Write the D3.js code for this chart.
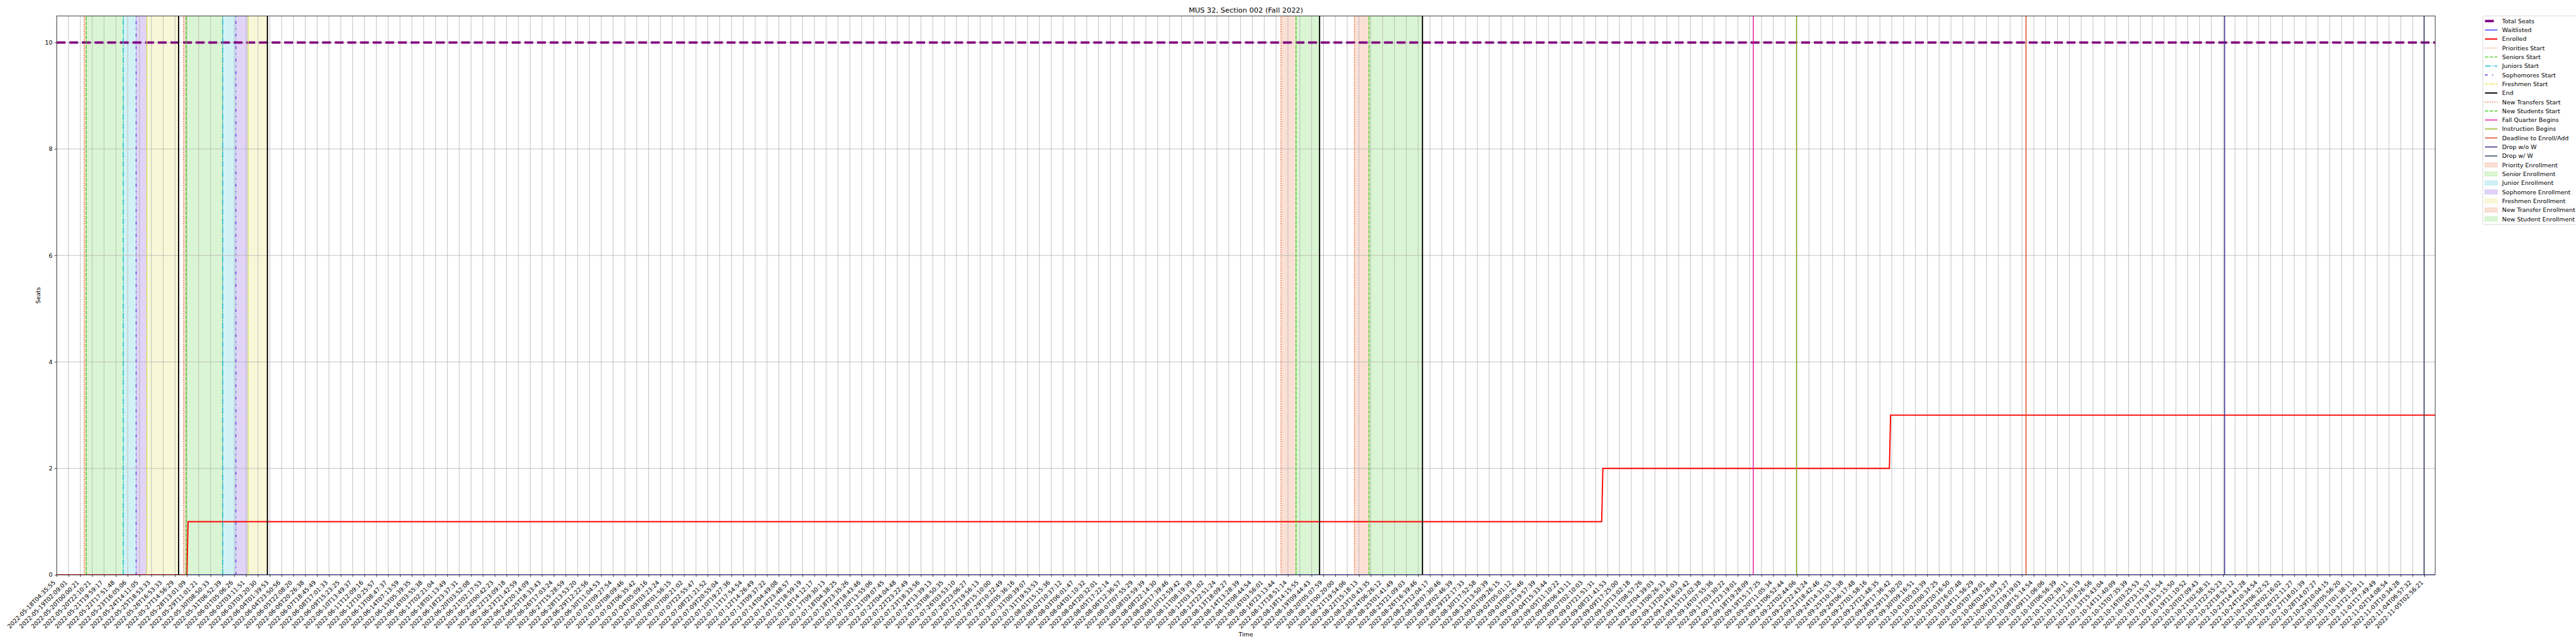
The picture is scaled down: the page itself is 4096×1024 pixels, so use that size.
<!DOCTYPE html>
<html><head><meta charset="utf-8">
<script src="https://cdn.jsdelivr.net/npm/d3@7"></script>
<style>html,body{margin:0;padding:0;background:#fff;overflow:hidden}</style>
</head><body>
<svg id="chart" width="4096" height="1024" viewBox="0 0 6000 1500"></svg>
<script>
// ---------------- DATA ----------------
const tickLabels = [
"2022-05-18T04:35:55","2022-05-19T02:09:01","2022-05-20T00:00:21","2022-05-20T22:10:21","2022-05-21T19:59:17",
"2022-05-22T17:51:48","2022-05-23T16:05:06","2022-05-24T14:11:05","2022-05-25T18:53:33","2022-05-26T16:53:33",
"2022-05-27T14:56:29","2022-05-28T13:01:09","2022-05-29T11:01:21","2022-05-30T08:50:33","2022-05-31T06:52:39",
"2022-06-01T05:06:26","2022-06-02T03:11:51","2022-06-03T03:20:30","2022-06-04T01:39:53","2022-06-04T23:50:56",
"2022-06-05T22:08:20","2022-06-06T20:26:38","2022-06-07T18:45:49","2022-06-08T17:01:33","2022-06-09T15:23:25",
"2022-06-10T13:49:37","2022-06-11T12:09:16","2022-06-12T10:25:57","2022-06-13T08:47:37","2022-06-14T07:13:59",
"2022-06-15T05:39:35","2022-06-16T03:55:38","2022-06-17T02:21:04","2022-06-18T01:13:49","2022-06-18T23:37:31",
"2022-06-20T03:52:08","2022-06-21T02:17:53","2022-06-22T00:42:23","2022-06-22T23:09:18","2022-06-23T21:42:59",
"2022-06-24T20:14:09","2022-06-25T18:33:43","2022-06-26T17:03:24","2022-06-27T15:28:59","2022-06-28T13:53:20",
"2022-06-29T12:22:56","2022-06-30T11:04:53","2022-07-01T09:27:54","2022-07-02T08:09:46","2022-07-03T06:35:42",
"2022-07-04T05:09:16","2022-07-05T03:23:24","2022-07-06T01:56:15","2022-07-07T00:21:02","2022-07-07T22:55:47",
"2022-07-08T21:21:52","2022-07-09T20:55:04","2022-07-10T19:27:36","2022-07-11T17:54:54","2022-07-12T14:26:49",
"2022-07-13T09:37:22","2022-07-14T04:49:08","2022-07-14T23:48:57","2022-07-15T18:59:19","2022-07-16T14:12:17",
"2022-07-17T09:30:13","2022-07-18T04:38:25","2022-07-18T23:35:26","2022-07-19T18:43:46","2022-07-20T13:55:06",
"2022-07-21T09:07:45","2022-07-22T04:04:48","2022-07-22T23:22:49","2022-07-23T18:33:56","2022-07-24T13:39:13",
"2022-07-25T08:50:35","2022-07-26T03:53:10","2022-07-26T23:06:27","2022-07-27T19:56:13","2022-07-28T15:10:00",
"2022-07-29T10:22:49","2022-07-30T05:36:16","2022-07-31T00:39:07","2022-07-31T19:53:53","2022-08-01T15:15:36",
"2022-08-02T10:37:12","2022-08-03T06:01:47","2022-08-04T01:10:32","2022-08-04T20:32:01","2022-08-05T17:22:14",
"2022-08-06T12:36:57","2022-08-07T07:55:29","2022-08-08T02:59:39","2022-08-08T22:14:30","2022-08-09T17:39:46",
"2022-08-10T12:59:42","2022-08-11T08:19:39","2022-08-12T03:31:02","2022-08-12T22:51:24","2022-08-13T18:09:27",
"2022-08-14T13:28:39","2022-08-15T08:44:54","2022-08-16T03:56:01","2022-08-16T23:13:44","2022-08-17T18:51:14",
"2022-08-18T14:15:55","2022-08-19T09:44:43","2022-08-20T05:07:59","2022-08-21T00:20:00","2022-08-21T19:54:06",
"2022-08-22T15:18:13","2022-08-23T10:43:35","2022-08-24T06:26:12","2022-08-25T01:41:49","2022-08-25T21:09:03",
"2022-08-26T16:39:46","2022-08-27T12:04:17","2022-08-28T07:30:46","2022-08-29T02:46:39","2022-08-29T22:17:33",
"2022-08-30T17:52:58","2022-08-31T13:50:39","2022-09-01T09:26:15","2022-09-02T05:01:12","2022-09-03T00:25:46",
"2022-09-03T19:57:39","2022-09-04T15:33:44","2022-09-05T11:10:22","2022-09-06T06:43:11","2022-09-07T02:10:03",
"2022-09-07T21:51:31","2022-09-08T21:41:53","2022-09-09T17:25:00","2022-09-10T13:02:18","2022-09-11T08:57:26",
"2022-09-12T04:39:03","2022-09-13T00:26:33","2022-09-13T20:16:03","2022-09-14T16:03:42","2022-09-15T12:02:38",
"2022-09-16T07:55:36","2022-09-17T03:30:22","2022-09-17T23:19:01","2022-09-18T19:28:09","2022-09-19T15:17:25",
"2022-09-20T11:05:34","2022-09-21T06:52:44","2022-09-22T02:44:06","2022-09-22T22:43:24","2022-09-23T18:42:46",
"2022-09-24T14:31:53","2022-09-25T10:13:38","2022-09-26T06:17:48","2022-09-27T01:58:16","2022-09-27T21:48:35",
"2022-09-28T17:36:42","2022-09-29T13:30:20","2022-09-30T09:16:51","2022-10-01T05:03:39","2022-10-02T00:37:25",
"2022-10-02T20:16:50","2022-10-03T16:07:48","2022-10-04T11:56:29","2022-10-05T07:49:01","2022-10-06T03:28:04",
"2022-10-06T23:23:27","2022-10-07T19:19:03","2022-10-08T15:14:54","2022-10-09T11:06:06","2022-10-10T06:56:39",
"2022-10-11T02:39:11","2022-10-11T22:30:19","2022-10-12T18:26:56","2022-10-13T15:43:04","2022-10-14T11:40:09",
"2022-10-15T07:35:39","2022-10-16T03:25:53","2022-10-16T23:15:57","2022-10-17T19:15:54","2022-10-18T15:15:50",
"2022-10-19T11:10:52","2022-10-20T07:09:43","2022-10-21T02:58:31","2022-10-21T22:55:23","2022-10-22T18:52:12",
"2022-10-23T14:41:28","2022-10-24T10:34:54","2022-10-25T06:32:52","2022-10-26T02:16:02","2022-10-26T22:11:27",
"2022-10-27T18:01:39","2022-10-28T14:07:27","2022-10-29T10:04:15","2022-10-30T05:56:20","2022-10-31T01:38:11",
"2022-10-31T21:29:11","2022-11-01T17:49:49","2022-11-02T14:08:54","2022-11-03T10:34:28","2022-11-04T06:57:32",
"2022-11-05T02:56:21"
];
const lastSample = 2009;          // samples indexed 0..2009, a tick every 10th sample
const tickEvery = 10;
const yTicks = [0, 2, 4, 6, 8, 10];

// series as [sampleIndex, value] change points
const totalSeats = [[0, 10], [2009, 10]];
const waitlisted = [[0, 0], [2009, 0]];
const enrolled   = [[0, 0], [110, 0], [111, 1], [1305, 1], [1306, 2], [1548, 2], [1549, 3], [2009, 3]];

// event markers (sample index)
const eventNames = ["Priorities Start","Seniors Start","Juniors Start","Sophomores Start","Freshmen Start","End",
  "Priorities Start","Seniors Start","Juniors Start","Sophomores Start","Freshmen Start","End",
  "New Transfers Start","New Students Start","End",
  "New Transfers Start","New Students Start","End",
  "Fall Quarter Begins","Instruction Begins","Deadline to Enroll/Add","Drop w/o W","Drop w/ W"];
const eventPos = [23.2, 25.0, 56.2, 67.1, 76.1, 103.0,
  107.2, 109.3, 140.3, 151.3, 161.7, 178.0,
  1034.1, 1046.8, 1066.7,
  1096.1, 1108.5, 1153.6,
  1433.0, 1469.5, 1663.4, 1831.2, 1999.6];

// shaded enrollment periods
const spanNames = ["Priority Enrollment","Senior Enrollment","Junior Enrollment","Sophomore Enrollment","Freshmen Enrollment",
  "Priority Enrollment","Senior Enrollment","Junior Enrollment","Sophomore Enrollment","Freshmen Enrollment",
  "New Transfer Enrollment","New Student Enrollment","New Transfer Enrollment","New Student Enrollment"];
const spanStart = [23.2, 25.0, 56.2, 67.1, 76.1, 107.2, 109.3, 140.3, 151.3, 161.7, 1034.1, 1046.8, 1096.1, 1108.5];
const spanEnd   = [25.0, 56.2, 67.1, 76.1, 103.0, 109.3, 140.3, 151.3, 161.7, 178.0, 1046.8, 1066.7, 1108.5, 1153.6];

const seriesNames = ["Total Seats", "Waitlisted", "Enrolled"];

// ---------------- STYLES ----------------
const PT = 100 / 72;
const seriesStyle = {
  "Total Seats": {color: "#800080", w: 4 * PT, dash: [3.7 * 4 * PT, 1.6 * 4 * PT].join(",")},
  "Waitlisted":  {color: "#0000ff", w: 1.2 * PT, dash: null},
  "Enrolled":    {color: "#ff0000", w: 2 * PT, dash: null}
};
const lw = 1.5 * PT;
const eventStyle = {
  "Priorities Start":    {color: "#e8642e", w: lw, dash: [1 * lw, 1.65 * lw].join(",")},
  "Seniors Start":       {color: "#44cc22", w: lw, dash: [3.7 * lw, 1.6 * lw].join(",")},
  "Juniors Start":       {color: "#17becf", w: lw, dash: [6.4 * lw, 1.6 * lw, 1 * lw, 1.6 * lw].join(",")},
  "Sophomores Start":    {color: "#6a28d6", w: lw, dash: [3 * lw, 5 * lw, 1 * lw, 5 * lw].join(",")},
  "Freshmen Start":      {color: "#dede3a", w: lw, dash: [3 * lw, 1 * lw, 1 * lw, 1 * lw].join(",")},
  "End":                 {color: "#000000", w: 2 * PT, dash: null},
  "New Transfers Start": {color: "#e8642e", w: lw, dash: [1 * lw, 1.65 * lw].join(",")},
  "New Students Start":  {color: "#44cc22", w: lw, dash: [3.7 * lw, 1.6 * lw].join(",")},
  "Fall Quarter Begins": {color: "#e0169c", w: lw, dash: null},
  "Instruction Begins":  {color: "#8db31a", w: lw, dash: null},
  "Deadline to Enroll/Add": {color: "#d5441c", w: lw, dash: null},
  "Drop w/o W":          {color: "#2e2689", w: lw, dash: null},
  "Drop w/ W":           {color: "#2d3a5a", w: lw, dash: null}
};
const spanColor = {
  "Priority Enrollment": "#e8642e", "Senior Enrollment": "#44cc22", "Junior Enrollment": "#17becf",
  "Sophomore Enrollment": "#6a28d6", "Freshmen Enrollment": "#dede3a",
  "New Transfer Enrollment": "#e8642e", "New Student Enrollment": "#44cc22"
};
const FONT = "DejaVu Sans, sans-serif";
const fs = 10 * PT;

// ---------------- LAYOUT (reference pixels) ----------------
const L = 132, R = 5672, T = 37, B = 1339;
const svg = d3.select("#chart");
svg.append("rect").attr("width", 6000).attr("height", 1500).attr("fill", "#fff");

const x = d3.scaleLinear().domain([0, lastSample]).range([L, R]);
const y = d3.scaleLinear().domain([0, 10.5]).range([B, T]);

svg.append("defs").append("clipPath").attr("id", "plotclip")
  .append("rect").attr("x", L).attr("y", T).attr("width", R - L).attr("height", B - T);
const plot = svg.append("g").attr("clip-path", "url(#plotclip)");

// spans
plot.selectAll("rect.span").data(spanNames.map((n, i) => ({n, a: spanStart[i], b: spanEnd[i]})))
  .join("rect").attr("class", "span")
  .attr("x", d => x(d.a)).attr("width", d => x(d.b) - x(d.a))
  .attr("y", T).attr("height", B - T)
  .attr("fill", d => spanColor[d.n]).attr("fill-opacity", 0.2)
  .attr("stroke", d => spanColor[d.n]).attr("stroke-opacity", 0.2).attr("stroke-width", PT);

// grid
const tickVals = tickLabels.map((_, i) => i * tickEvery);
plot.selectAll("line.vgrid").data(tickVals).join("line").attr("class", "vgrid")
  .attr("x1", d => x(d)).attr("x2", d => x(d)).attr("y1", T).attr("y2", B)
  .attr("stroke", "#b0b0b0").attr("stroke-width", 0.8 * PT);
plot.selectAll("line.hgrid").data(yTicks).join("line").attr("class", "hgrid")
  .attr("x1", L).attr("x2", R).attr("y1", d => y(d)).attr("y2", d => y(d))
  .attr("stroke", "#b0b0b0").attr("stroke-width", 0.8 * PT);

// data lines
const line = d3.line().x(d => x(d[0])).y(d => y(d[1]));
[["Total Seats", totalSeats], ["Waitlisted", waitlisted], ["Enrolled", enrolled]].forEach(([n, data]) => {
  const s = seriesStyle[n];
  plot.append("path").datum(data).attr("d", line).attr("fill", "none")
    .attr("stroke", s.color).attr("stroke-width", s.w)
    .attr("stroke-dasharray", s.dash);
});

// event vertical lines (drawn bottom to top)
plot.selectAll("line.event").data(eventNames.map((n, i) => ({n, p: eventPos[i]})))
  .join("line").attr("class", "event")
  .attr("x1", d => x(d.p)).attr("x2", d => x(d.p)).attr("y1", B).attr("y2", T)
  .attr("stroke", d => eventStyle[d.n].color).attr("stroke-width", d => eventStyle[d.n].w)
  .attr("stroke-dasharray", d => eventStyle[d.n].dash);

// axes
const xAxis = d3.axisBottom(x).tickValues(tickVals).tickFormat((d, i) => tickLabels[i])
  .tickSize(3.5 * PT).tickPadding(3.5 * PT);
const gx = svg.append("g").attr("transform", `translate(0,${B})`).call(xAxis);
gx.select(".domain").remove();
gx.selectAll(".tick line").attr("stroke", "#000").attr("stroke-width", 0.8 * PT);
const ex = -0.24 * fs * 0.707, ey = 7 * PT + 0.93 * fs * 0.707;
gx.selectAll(".tick text")
  .attr("font-family", FONT).attr("font-size", fs).attr("fill", "#000")
  .attr("text-anchor", "end").attr("dy", null)
  .attr("x", ex).attr("y", ey)
  .attr("transform", `rotate(-45,${ex},${ey})`);

const yAxis = d3.axisLeft(y).tickValues(yTicks).tickFormat(d3.format("d"))
  .tickSize(3.5 * PT).tickPadding(3.5 * PT);
const gy = svg.append("g").attr("transform", `translate(${L},0)`).call(yAxis);
gy.select(".domain").remove();
gy.selectAll(".tick line").attr("stroke", "#000").attr("stroke-width", 0.8 * PT);
gy.selectAll(".tick text").attr("font-family", FONT).attr("font-size", fs).attr("fill", "#000");

// spines
svg.append("rect").attr("x", L).attr("y", T).attr("width", R - L).attr("height", B - T)
  .attr("fill", "none").attr("stroke", "#000").attr("stroke-width", 0.8 * PT);

// titles
svg.append("text").attr("x", (L + R) / 2).attr("y", 29).attr("text-anchor", "middle")
  .attr("font-family", FONT).attr("font-size", 12 * PT).text("MUS 32, Section 002 (Fall 2022)");
svg.append("text").attr("x", (L + R) / 2).attr("y", 1482).attr("text-anchor", "middle")
  .attr("font-family", FONT).attr("font-size", fs).text("Time");
svg.append("text").attr("transform", `translate(94,${(T + B) / 2}) rotate(-90)`).attr("text-anchor", "middle")
  .attr("font-family", FONT).attr("font-size", fs).text("Seats");

// legend
const legendItems = [];
seriesNames.forEach(n => legendItems.push({n, type: "line", s: seriesStyle[n]}));
[...new Set(eventNames)].forEach(n => legendItems.push({n, type: "line", s: eventStyle[n]}));
[...new Set(spanNames)].forEach(n => legendItems.push({n, type: "patch", c: spanColor[n]}));

const lg = svg.append("g");
const lgX = 5783, lgY = 37, rowH = 20.95, firstRow = 49;
lg.append("rect").attr("x", lgX).attr("y", lgY).attr("width", 260).attr("height", 486).attr("rx", 3.9)
  .attr("fill", "#fff").attr("fill-opacity", 0.8).attr("stroke", "#cccccc").attr("stroke-width", 0.8 * PT);
const rows = lg.selectAll("g.row").data(legendItems).join("g").attr("class", "row")
  .attr("transform", (d, i) => `translate(0,${firstRow + i * rowH})`);
rows.filter(d => d.type === "line").append("line")
  .attr("x1", 5788).attr("x2", 5816.8).attr("y1", 0).attr("y2", 0)
  .attr("stroke", d => d.s.color).attr("stroke-width", d => d.s.w).attr("stroke-dasharray", d => d.s.dash);
rows.filter(d => d.type === "patch").append("rect")
  .attr("x", 5788).attr("y", -5).attr("width", 28.8).attr("height", 10)
  .attr("fill", d => d.c).attr("fill-opacity", 0.2)
  .attr("stroke", d => d.c).attr("stroke-opacity", 0.2).attr("stroke-width", PT);
rows.append("text").attr("x", 5828).attr("y", 0).attr("dy", "0.36em")
  .attr("font-family", FONT).attr("font-size", fs).attr("fill", "#000").text(d => d.n);
</script>
</body></html>
